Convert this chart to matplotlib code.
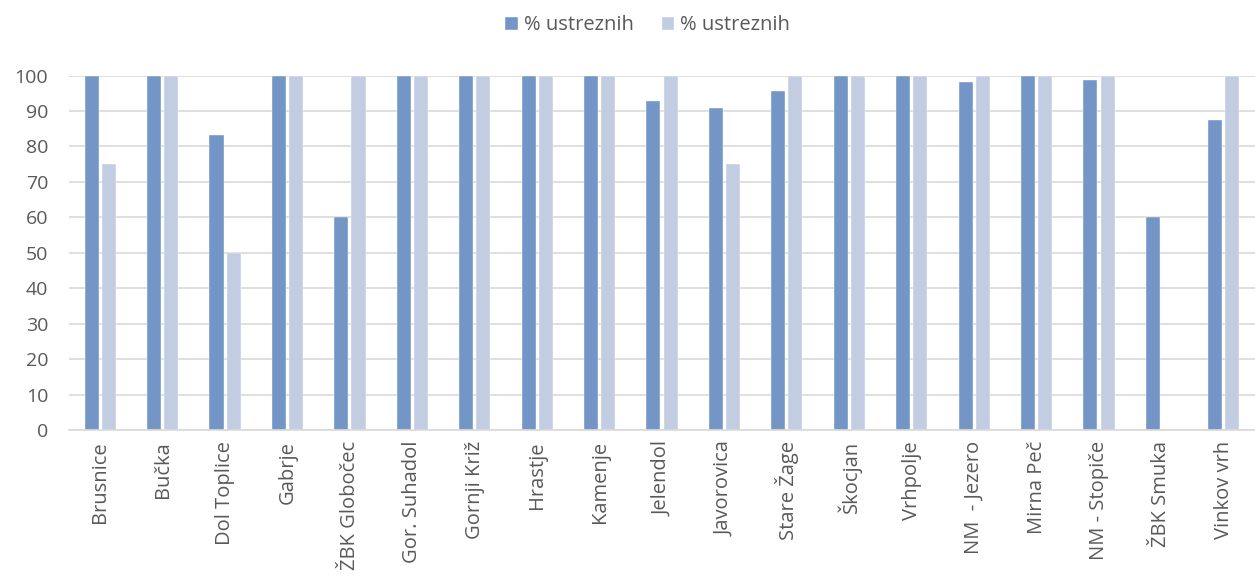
import matplotlib
matplotlib.use("Agg")
import matplotlib.pyplot as plt
import numpy as np

categories = ["Brusnice", "Bučka", "Dol Toplice", "Gabrje", "ŽBK Globočec", "Gor. Suhadol",
              "Gornji Križ", "Hrastje", "Kamenje", "Jelendol", "Javorovica", "Stare Žage",
              "Škocjan", "Vrhpolje", "NM  - Jezero", "Mirna Peč", "NM - Stopiče", "ŽBK Smuka",
              "Vinkov vrh"]
series1 = [100, 100, 83.3, 100, 60, 100, 100, 100, 100, 92.8, 90.8, 95.6, 100, 100, 98.2, 100, 98.7, 60, 87.5]
series2 = [75, 100, 50, 100, 100, 100, 100, 100, 100, 100, 75, 100, 100, 100, 100, 100, 100, 0, 100]
series_names = ["% ustreznih", "% ustreznih"]
yticks = list(range(0, 101, 10))

plt.rcParams['font.family'] = ['Open Sans', 'DejaVu Sans']

fig = plt.figure(figsize=(12.55, 5.77), dpi=100)
ax = fig.add_axes([0.055, 0.2548, 0.945, 0.6142])

x = np.arange(len(categories))
w = 0.225
c1 = "#7496C6"
c2 = "#C2CDE1"
tc = "#595959"
ax.bar(x - w/2 - 0.025, series1, w, color=c1, label=series_names[0], edgecolor="white", linewidth=0.3)
ax.bar(x + w/2 + 0.025, series2, w, color=c2, label=series_names[1], edgecolor="white", linewidth=0.3)

ax.set_xlim(-0.5, len(categories) - 0.5)
ax.set_ylim(0, 100)
ax.set_yticks(yticks)
ax.set_xticks(x)
ax.set_xticklabels(categories, rotation=90, fontsize=14.5, color=tc)
ax.tick_params(axis='y', labelsize=14, colors=tc, length=0, pad=15)
ax.tick_params(axis='x', length=0, pad=8)
ax.grid(axis='y', color="#D9D9D9", linewidth=1.2)
ax.set_axisbelow(True)
for s in ["top", "right", "left"]:
    ax.spines[s].set_visible(False)
ax.spines["bottom"].set_color("#D9D9D9")
ax.spines["bottom"].set_linewidth(1.2)

fig.legend(loc="upper center", bbox_to_anchor=(0.516, 1.005), ncol=2, frameon=False,
           fontsize=14.5, handlelength=0.6, handleheight=0.6, handletextpad=0.3,
           columnspacing=1.4, labelcolor=tc)

fig.savefig("out.png", dpi=100)
